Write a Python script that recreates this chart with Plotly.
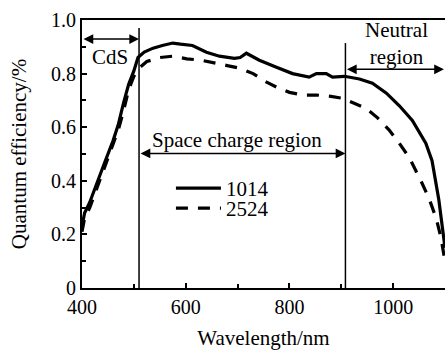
import plotly.graph_objects as go

# ---- data ----
wl_1014 = [400, 405, 415, 430, 445, 460, 470, 480, 490, 500, 508, 520, 537, 555, 575, 590,
           613, 640, 665, 694, 705, 717, 742, 775, 806, 838, 852, 871, 883, 906, 935, 960,
           987, 1012, 1037, 1063, 1075, 1088, 1100]
qe_1014 = [0.23, 0.28, 0.32, 0.40, 0.475, 0.55, 0.61, 0.69, 0.76, 0.81, 0.86, 0.88, 0.895,
           0.905, 0.914, 0.91, 0.905, 0.88, 0.865, 0.857, 0.86, 0.876, 0.85, 0.824, 0.80,
           0.787, 0.80, 0.80, 0.787, 0.79, 0.78, 0.764, 0.727, 0.68, 0.625, 0.54, 0.475,
           0.33, 0.15]

wl_2524 = [400, 405, 415, 430, 445, 460, 470, 480, 490, 500, 510, 525, 550, 575, 602, 630,
           652, 680, 704, 730, 756, 780, 800, 825, 852, 880, 902, 925, 948, 970, 992, 1010,
           1031, 1056, 1070, 1083, 1092, 1100]
qe_2524 = [0.21, 0.26, 0.30, 0.38, 0.46, 0.535, 0.59, 0.66, 0.74, 0.79, 0.82, 0.845, 0.86,
           0.865, 0.855, 0.85, 0.84, 0.83, 0.82, 0.80, 0.768, 0.745, 0.73, 0.72, 0.72, 0.715,
           0.708, 0.69, 0.67, 0.635, 0.59, 0.545, 0.487, 0.39, 0.33, 0.26, 0.19, 0.10]

series_names = ["1014", "2524"]

x_tickvals = [400, 600, 800, 1000]
x_ticktext = ["400", "600", "800", "1000"]
y_tickvals = [0, 0.2, 0.4, 0.6, 0.8, 1.0]
y_ticktext = ["0", "0.2", "0.4", "0.6", "0.8", "1.0"]

# region boundaries (nm) and labels
cds_edge = 510
scr_edge = 908
region_labels = ["CdS", "Space charge region", "Neutral<br>region"]

FONT = "Liberation Serif"

fig = go.Figure()
fig.add_trace(go.Scatter(x=wl_1014, y=qe_1014, mode="lines", name=series_names[0],
                         line=dict(color="black", width=3.2), legend="legend"))
fig.add_trace(go.Scatter(x=wl_2524, y=qe_2524, mode="lines", name=series_names[1],
                         line=dict(color="black", width=3.2, dash="12px,10px"), legend="legend2"))

# vertical region boundaries
fig.add_shape(type="line", x0=cds_edge, x1=cds_edge, y0=0, y1=0.97,
              xref="x", yref="y", line=dict(color="black", width=1.5))
fig.add_shape(type="line", x0=scr_edge, x1=scr_edge, y0=0, y1=0.914,
              xref="x", yref="y", line=dict(color="black", width=1.5))

# double-headed arrows
def dbl_arrow(x0, x1, y):
    fig.add_annotation(x=x1, y=y, ax=x0, ay=y, xref="x", yref="y", axref="x", ayref="y",
                       text="", showarrow=True, arrowhead=2, startarrowhead=2,
                       arrowside="end+start", arrowwidth=1.5, arrowsize=1.3,
                       startarrowsize=1.3, arrowcolor="black")

dbl_arrow(400, cds_edge, 0.929)
dbl_arrow(cds_edge, scr_edge, 0.502)
dbl_arrow(scr_edge, 1098, 0.816)

fig.add_annotation(x=454, y=0.861, text=region_labels[0], showarrow=False,
                   font=dict(family=FONT, size=21, color="black"))
fig.add_annotation(x=699, y=0.554, text=region_labels[1], showarrow=False,
                   font=dict(family=FONT, size=21, color="black"))
fig.add_annotation(x=1006, y=0.914, text=region_labels[2], showarrow=False,
                   font=dict(family=FONT, size=21, color="black"))

leg_common = dict(xanchor="left", yanchor="top", bgcolor="rgba(0,0,0,0)",
                  font=dict(family=FONT, size=21), itemwidth=45)

fig.update_layout(
    width=445, height=350,
    margin=dict(l=82, r=0, t=20, b=62),
    paper_bgcolor="white", plot_bgcolor="white",
    font=dict(family=FONT, size=20, color="black"),
    showlegend=True,
    legend=dict(x=0.245, y=0.448, **leg_common),
    legend2=dict(x=0.245, y=0.373, **leg_common),
)
fig.update_xaxes(range=[400, 1100], tickvals=x_tickvals, ticktext=x_ticktext,
                 ticks="inside", ticklen=5, tickwidth=1.5, tickcolor="black",
                 minor=dict(dtick=100, tick0=400, ticks="inside", ticklen=4, tickcolor="black"),
                 showline=True, linecolor="black", linewidth=2, mirror=True,
                 showgrid=False, zeroline=False, automargin=False,
                 title=dict(text="Wavelength/nm", font=dict(family=FONT, size=21), standoff=16))
fig.update_yaxes(range=[0, 1.0], tickvals=y_tickvals, ticktext=y_ticktext,
                 ticks="inside", ticklen=5, tickwidth=1.5, tickcolor="black",
                 minor=dict(dtick=0.1, tick0=0, ticks="inside", ticklen=4, tickcolor="black"),
                 showline=True, linecolor="black", linewidth=2, mirror=False,
                 showgrid=False, zeroline=False, automargin=False,
                 title=dict(text="Quantum efficiency/%", font=dict(family=FONT, size=21), standoff=19))

# remove the page's default body margin so the 445x350 figure fills the window exactly
fig.write_html("out.html",
               config={"displayModeBar": False},
               post_script="document.body.style.margin='0';document.body.style.overflow='hidden';")
